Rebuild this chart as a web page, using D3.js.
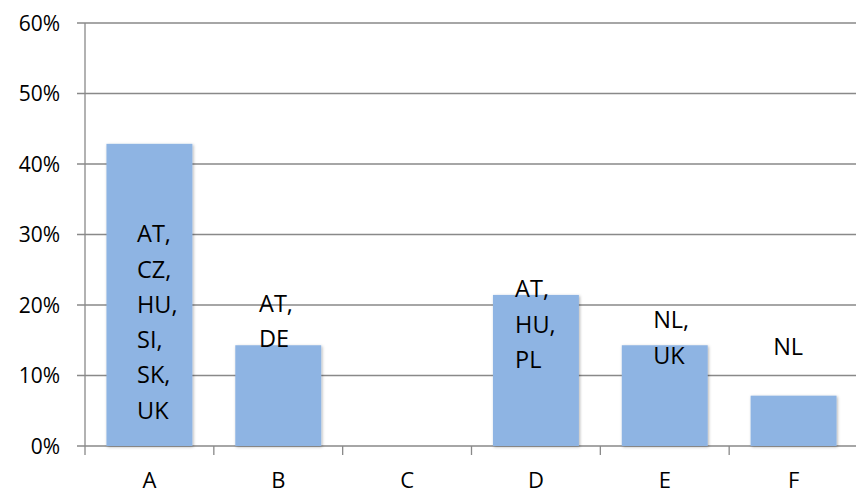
<!DOCTYPE html>
<html>
<head>
<meta charset="utf-8">
<script src="https://cdn.jsdelivr.net/npm/d3@7/dist/d3.min.js"></script>
<style>
  html, body { margin: 0; padding: 0; background: #fff; }
  svg { display: block; }
  text { font-family: "Open Sans", "DejaVu Sans", sans-serif; fill: #000; }
</style>
</head>
<body>
<svg id="chart" width="856" height="494"></svg>
<script>
// ---- data ----
const categories = ["A", "B", "C", "D", "E", "F"];
const values = [0.4286, 0.1429, 0, 0.2143, 0.1429, 0.0714];
const barLabels = [
  ["AT,", "CZ,", "HU,", "SI,", "SK,", "UK"],
  ["AT,", "DE"],
  [],
  ["AT,", "HU,", "PL"],
  ["NL,", "UK"],
  ["NL"]
];
const yTicks = [0, 0.1, 0.2, 0.3, 0.4, 0.5, 0.6];

// ---- layout (label placement, as in the source text boxes) ----
const labelFirstBaseline = [0.289, 0.190, 0, 0.211, 0.167, 0.129]; // in y-units
const labelDx = [-12.4, -19.2, 0, -20.8, -11.6, -20.4];            // px from band centre
const lineGap = 35.3;

const svg = d3.select("#chart");
const mLeft = 85, mRight = 858, mTop = 23, mBottom = 446;

const x = d3.scaleBand().domain(categories).range([mLeft, mRight])
  .paddingInner(0.333).paddingOuter(0.1665);
const y = d3.scaleLinear().domain([0, 0.6]).range([mBottom, mTop]);

const defs = svg.append("defs");
const f = defs.append("filter").attr("id", "sh")
  .attr("x", "-10%").attr("y", "-10%").attr("width", "130%").attr("height", "130%");
f.append("feDropShadow").attr("dx", 1).attr("dy", 1).attr("stdDeviation", 1.5)
  .attr("flood-color", "#000").attr("flood-opacity", 0.3);

const gridColor = "#898989";

// gridlines (+ left tick stubs)
svg.append("g").selectAll("line").data(yTicks).join("line")
  .attr("x1", mLeft - 8).attr("x2", 856)
  .attr("y1", d => y(d)).attr("y2", d => y(d))
  .attr("stroke", gridColor).attr("stroke-width", 1.3);

// y axis line
svg.append("line").attr("x1", mLeft).attr("x2", mLeft)
  .attr("y1", mTop).attr("y2", mBottom)
  .attr("stroke", gridColor).attr("stroke-width", 1.3);

// y tick labels
const fmt = d3.format(".0%");
svg.append("g").selectAll("text").data(yTicks).join("text")
  .attr("x", 60).attr("y", d => y(d))
  .attr("dy", "0.36em")
  .attr("text-anchor", "end")
  .attr("font-size", 21)
  .text(d => fmt(d));

// bars
svg.append("g").selectAll("rect").data(categories).join("rect")
  .attr("x", d => x(d))
  .attr("width", x.bandwidth())
  .attr("y", (d, i) => y(values[i]))
  .attr("height", (d, i) => y(0) - y(values[i]))
  .attr("fill", "#8EB4E3")
  .attr("filter", "url(#sh)");

// x axis boundary ticks
const step = x.step();
const boundaries = d3.range(categories.length + 1).map(i => mLeft + i * step);
svg.append("g").selectAll("line").data(boundaries).join("line")
  .attr("x1", d => d).attr("x2", d => d)
  .attr("y1", mBottom).attr("y2", mBottom + 9)
  .attr("stroke", gridColor).attr("stroke-width", 1.3);

// category labels
svg.append("g").selectAll("text").data(categories).join("text")
  .attr("x", d => x(d) + x.bandwidth() / 2)
  .attr("y", 487.5)
  .attr("text-anchor", "middle")
  .attr("font-size", 22)
  .text(d => d);

// bar labels
categories.forEach((c, i) => {
  const lines = barLabels[i];
  if (!lines.length) return;
  const cx = x(c) + x.bandwidth() / 2 + labelDx[i];
  const t = svg.append("text")
    .attr("x", cx)
    .attr("y", y(labelFirstBaseline[i]))
    .attr("font-size", 23.5);
  lines.forEach((ln, j) => {
    t.append("tspan")
      .attr("x", cx)
      .attr("y", y(labelFirstBaseline[i]) + j * lineGap)
      .text(ln);
  });
});
</script>
</body>
</html>
